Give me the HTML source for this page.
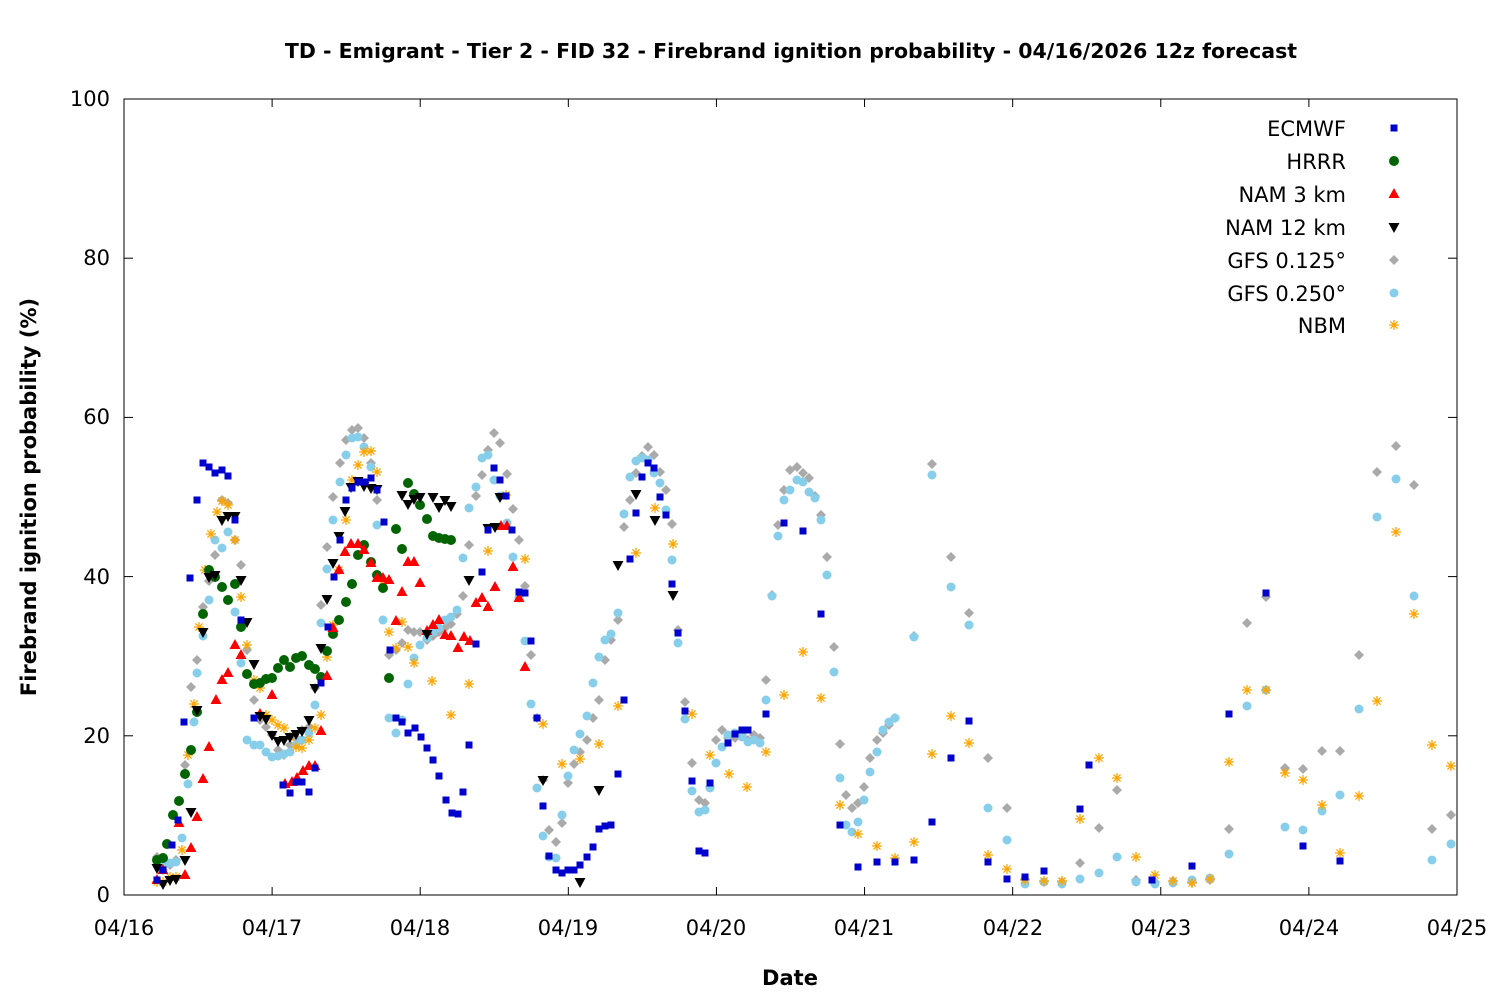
<!DOCTYPE html>
<html><head><meta charset="utf-8"><style>
html,body{margin:0;padding:0;background:#fff}
svg{display:block;font-family:"DejaVu Sans","Liberation Sans",sans-serif}
</style></head><body>
<svg id="s" width="1500" height="1000" xmlns="http://www.w3.org/2000/svg">
<rect width="1500" height="1000" fill="#fff"/>
<text x="791" y="58" text-anchor="middle" font-size="20.5" font-weight="bold">TD - Emigrant - Tier 2 - FID 32 - Firebrand ignition probability - 04/16/2026 12z forecast</text>
<rect x="124" y="99" width="1333" height="796" fill="none" stroke="#000" stroke-width="1"/>
<g font-size="21" text-anchor="end">
<text x="110" y="902">0</text><text x="110" y="743">20</text><text x="110" y="584">40</text><text x="110" y="424">60</text><text x="110" y="265">80</text><text x="110" y="106">100</text>
</g>
<g font-size="21" text-anchor="middle">
<text x="124" y="935">04/16</text><text x="272" y="935">04/17</text><text x="420" y="935">04/18</text><text x="568" y="935">04/19</text><text x="716" y="935">04/20</text><text x="864" y="935">04/21</text><text x="1013" y="935">04/22</text><text x="1161" y="935">04/23</text><text x="1309" y="935">04/24</text><text x="1457" y="935">04/25</text>
</g>
<text x="790" y="985" text-anchor="middle" font-size="21" font-weight="bold">Date</text>
<text transform="translate(36,497) rotate(-90)" text-anchor="middle" font-size="21" font-weight="bold">Firebrand ignition probability (%)</text>
<g id="ticks" stroke="#000"></g>
<g font-size="21" text-anchor="end">
<text x="1346" y="136">ECMWF</text><text x="1346" y="169">HRRR</text><text x="1346" y="202">NAM 3 km</text><text x="1346" y="235">NAM 12 km</text><text x="1346" y="268">GFS 0.125°</text><text x="1346" y="301">GFS 0.250°</text><text x="1346" y="333">NBM</text>
</g>
<g id="pts"></g>
</svg>
<script>
var NS="http://www.w3.org/2000/svg",g=document.getElementById("pts"),tk=document.getElementById("ticks");
function el(t,a,p){var e=document.createElementNS(NS,t);for(var k in a)e.setAttribute(k,a[k]);(p||g).appendChild(e);return e;}
for(var i=0;i<=9;i++){var x=124+i*148.11;el("line",{x1:x,y1:895,x2:x,y2:887},tk);el("line",{x1:x,y1:99,x2:x,y2:107},tk);}
for(var i=0;i<=5;i++){var y=895-i*159.2;el("line",{x1:124,y1:y,x2:133,y2:y},tk);el("line",{x1:1457,y1:y,x2:1448,y2:y},tk);}
function P(s){var a=s.split(/[(),]+/).filter(function(v){return v!=="";}).map(Number),r=[];for(var i=0;i<a.length;i+=2)r.push([a[i],a[i+1]]);return r;}
var M={
sq:function(x,y){el("rect",{x:x-3.5,y:y-3.5,width:7,height:7,fill:"#0000cc"});},
ci:function(x,y){el("circle",{cx:x,cy:y,r:5,fill:"#006400"});},
up:function(x,y){el("polygon",{points:(x)+","+(y-6)+" "+(x-5.5)+","+(y+4)+" "+(x+5.5)+","+(y+4),fill:"#ff0000"});},
dn:function(x,y){el("polygon",{points:(x)+","+(y+6)+" "+(x-5.5)+","+(y-4)+" "+(x+5.5)+","+(y-4),fill:"#000"});},
di:function(x,y){el("polygon",{points:x+","+(y-5)+" "+(x+5)+","+y+" "+x+","+(y+5)+" "+(x-5)+","+y,fill:"#aaaaaa"});},
pe:function(x,y){el("circle",{cx:x,cy:y,r:4.5,fill:"#87ceeb"});},
as:function(x,y){var d="M"+(x-5)+" "+y+"h10M"+x+" "+(y-5)+"v10M"+(x-3.6)+" "+(y-3.6)+"l7.2 7.2M"+(x-3.6)+" "+(y+3.6)+"l7.2 -7.2";el("path",{d:d,stroke:"#ffa500","stroke-width":1.3,fill:"none"});}
};
var D={
di:"(157,857),(163,870),(170,865),(176,860),(185,765),(191,687),(197,660),(203,607),(209,581),(215,555),(222,500),(228,503),(235,540),(241,565),(247,650),(254,700),(260,720),(266,727),(272,735),(278,750),(284,755),(290,745),(296,738),(302,730),(309,727),(315,688),(321,605),(327,547),(333,497),(340,463),(346,440),(352,430),(358,428),(364,438),(371,463),(377,500),(383,580),(389,655),(396,650),(402,643),(408,630),(414,632),(420,632),(427,640),(433,636),(439,632),(445,628),(451,624),(457,614),(463,596),(469,545),(476,496),(482,475),(488,450),(494,433),(500,443),(507,474),(513,509),(519,540),(525,586),(531,655),(537,718),(543,780),(549,830),(556,842),(562,823),(568,783),(574,764),(580,752),(587,740),(593,718),(599,700),(605,660),(611,640),(618,620),(624,527),(630,500),(636,473),(642,456),(648,447),(654,455),(660,472),(666,490),(672,524),(678,630),(685,702),(692,763),(699,800),(705,803),(710,787),(716,740),(722,730),(728,738),(735,738),(742,735),(748,740),(754,735),(760,738),(766,680),(772,595),(778,525),(784,490),(790,470),(797,467),(803,473),(809,478),(815,496),(821,515),(827,557),(834,647),(840,744),(846,795),(852,808),(858,803),(864,787),(870,758),(877,740),(883,733),(889,725),(895,718),(914,636),(932,464),(951,557),(969,613),(988,758),(1007,808),(1025,879),(1044,882),(1062,882),(1080,863),(1099,828),(1117,790),(1136,880),(1155,882),(1173,881),(1192,882),(1210,880),(1229,829),(1247,623),(1266,597),(1285,768),(1303,769),(1322,751),(1340,751),(1359,655),(1377,472),(1396,446),(1414,485),(1432,829),(1451,815)",
pe:"(157,865),(163,866),(170,863),(176,862),(182,838),(188,784),(194,722),(197,673),(203,636),(209,600),(215,540),(222,548),(228,532),(235,612),(241,663),(247,740),(254,745),(260,745),(266,752),(272,757),(278,756),(284,754),(290,752),(296,745),(302,740),(309,733),(315,705),(321,623),(327,569),(333,520),(340,482),(346,455),(352,438),(358,437),(364,447),(371,467),(377,525),(383,620),(389,718),(396,733),(402,720),(408,684),(414,658),(420,645),(427,638),(433,632),(439,628),(445,620),(451,617),(457,610),(463,558),(469,508),(476,487),(482,458),(488,455),(494,480),(500,496),(507,523),(513,557),(519,598),(525,641),(531,704),(537,788),(543,836),(549,857),(556,858),(562,815),(568,776),(574,750),(580,734),(587,716),(593,683),(599,657),(605,640),(611,634),(618,613),(624,514),(630,477),(636,461),(642,458),(648,460),(654,473),(660,483),(666,510),(672,560),(678,643),(685,719),(692,791),(699,812),(705,810),(710,788),(716,763),(722,747),(728,735),(735,733),(742,737),(748,742),(754,740),(760,743),(766,700),(772,596),(778,536),(784,500),(790,490),(797,480),(803,482),(809,492),(815,498),(821,520),(827,575),(834,672),(840,778),(846,825),(852,832),(858,822),(864,800),(870,772),(877,752),(883,730),(889,722),(895,718),(914,637),(932,475),(951,587),(969,625),(988,808),(1007,840),(1025,884),(1044,882),(1062,884),(1080,879),(1099,873),(1117,857),(1136,882),(1155,884),(1173,883),(1192,880),(1210,878),(1229,854),(1247,706),(1266,690),(1285,827),(1303,830),(1322,811),(1340,795),(1359,709),(1377,517),(1396,479),(1414,596),(1432,860),(1451,844)",
as:"(157,882),(163,882),(170,877),(176,877),(182,850),(188,755),(194,704),(199,627),(205,570),(211,534),(217,512),(222,501),(228,505),(235,540),(241,597),(247,645),(254,680),(260,688),(266,715),(272,720),(278,725),(284,728),(290,737),(296,747),(302,748),(309,740),(315,728),(321,715),(327,657),(333,625),(339,570),(346,520),(352,480),(358,465),(364,452),(371,451),(377,472),(383,581),(389,632),(396,648),(402,622),(408,647),(414,663),(432,681),(451,715),(469,684),(488,551),(506,495),(525,559),(543,724),(562,764),(580,759),(599,744),(618,706),(636,553),(655,508),(673,544),(692,714),(710,755),(729,774),(747,787),(766,752),(784,695),(803,652),(821,698),(840,805),(858,834),(877,846),(895,858),(914,842),(932,754),(951,716),(969,743),(988,855),(1007,869),(1025,880),(1044,881),(1062,881),(1080,819),(1099,758),(1117,778),(1136,857),(1155,875),(1173,881),(1192,883),(1210,879),(1229,762),(1247,690),(1266,690),(1285,773),(1303,780),(1322,805),(1340,853),(1359,796),(1377,701),(1396,532),(1414,614),(1432,745),(1451,766)",
ci:"(157,860),(163,858),(167,844),(173,815),(179,801),(185,774),(191,750),(197,712),(203,614),(209,570),(215,577),(222,587),(228,600),(235,584),(241,627),(247,674),(254,684),(260,683),(266,679),(272,678),(278,668),(284,660),(290,667),(296,658),(302,656),(309,665),(315,669),(321,677),(327,651),(333,634),(339,620),(346,602),(352,584),(358,555),(364,545),(371,562),(377,575),(383,588),(389,678),(396,529),(402,549),(408,483),(414,494),(420,505),(427,519),(433,536),(439,538),(445,539),(451,540)",
up:"(157,880),(163,870),(179,823),(185,875),(191,848),(197,817),(203,779),(209,747),(216,700),(222,680),(228,673),(235,645),(241,655),(260,714),(272,695),(285,784),(292,782),(297,778),(303,771),(309,766),(315,766),(321,731),(327,676),(333,628),(339,570),(345,552),(351,544),(358,544),(364,550),(371,563),(377,578),(383,578),(389,580),(396,621),(402,592),(408,562),(414,562),(420,583),(427,631),(433,625),(439,620),(445,635),(451,636),(458,648),(464,637),(470,641),(476,603),(482,598),(488,607),(495,587),(501,526),(507,526),(513,567),(519,598),(525,667)",
dn:"(157,868),(163,884),(170,880),(176,879),(185,860),(191,812),(197,710),(203,632),(209,577),(215,575),(222,520),(228,516),(235,516),(241,580),(247,622),(254,664),(260,716),(266,719),(272,735),(278,741),(284,740),(290,737),(296,734),(302,731),(309,720),(315,688),(321,648),(327,599),(333,563),(339,536),(345,511),(351,487),(358,481),(364,486),(371,488),(377,489),(402,495),(408,504),(414,499),(420,497),(427,634),(433,497),(439,507),(445,500),(451,506),(469,580),(488,528),(495,527),(500,497),(543,780),(580,882),(599,790),(618,565),(636,494),(655,520),(673,595)",
sq:"(157,880),(163,870),(172,845),(178,820),(184,722),(190,578),(197,500),(203,463),(209,467),(215,473),(222,470),(228,476),(235,520),(241,620),(254,718),(283,785),(290,793),(296,782),(302,782),(309,792),(315,768),(321,683),(328,627),(334,577),(340,540),(346,500),(352,488),(358,482),(365,482),(371,478),(377,490),(384,522),(390,650),(396,718),(402,722),(408,733),(415,728),(421,737),(427,748),(433,760),(439,776),(446,800),(452,813),(458,814),(463,792),(469,745),(476,644),(482,572),(488,530),(494,468),(500,480),(506,496),(512,530),(519,592),(525,593),(531,641),(537,718),(543,806),(549,856),(556,870),(562,873),(568,870),(574,870),(580,865),(587,857),(593,847),(599,829),(605,826),(611,825),(618,774),(624,700),(630,559),(636,513),(642,477),(648,463),(654,468),(660,497),(666,515),(672,584),(678,633),(685,711),(692,781),(699,851),(705,853),(710,783),(728,743),(735,734),(742,730),(748,730),(766,714),(784,523),(803,531),(821,614),(840,825),(858,867),(877,862),(895,862),(914,860),(932,822),(951,758),(969,721),(988,862),(1007,879),(1025,877),(1044,871),(1080,809),(1089,765),(1152,880),(1192,866),(1229,714),(1266,593),(1303,846),(1340,861)"
};
["di","pe","as","ci","up","dn","sq"].forEach(function(k){P(D[k]).forEach(function(p){M[k](p[0],p[1]);});});
M.sq(1394,128);M.ci(1394,161);M.up(1394,194);M.dn(1394,227);M.di(1394,260);M.pe(1394,293);M.as(1394,325);
</script>
</body></html>
